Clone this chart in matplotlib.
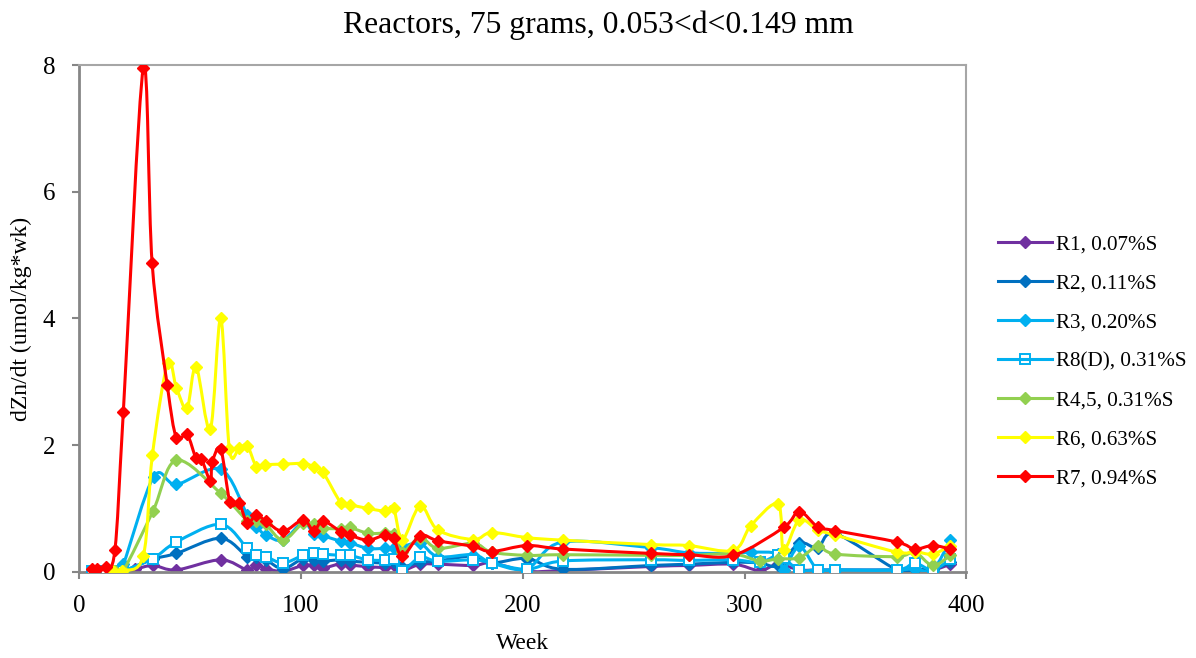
import numpy as np
import matplotlib
matplotlib.use('Agg')
import matplotlib.pyplot as plt
from matplotlib.path import Path
from matplotlib.patches import PathPatch
from matplotlib.lines import Line2D

plt.rcParams['font.family'] = ['Liberation Serif', 'DejaVu Serif']

# ---- data (week, dZn/dt) ----
r1_x = [5.7, 8.3, 12, 16.2, 20, 25.3, 33.4, 43.9, 63.9, 75.9, 80, 84.2, 92, 101, 105.8, 110, 118.2, 122,
        130.2, 138, 141.8, 145.8, 153.8, 161.8, 177.8, 186, 201.9, 218, 258, 274.8, 295, 306.8, 315.1,
        324.7, 333, 341, 368.7, 376.7, 384.8, 392.8]
r1_y = [0.01, 0.01, 0.01, 0.01, 0.01, 0.04, 0.10, 0.03, 0.19, 0.03, 0.11, 0.05, 0.01, 0.10, 0.10, 0.06,
        0.13, 0.11, 0.08, 0.07, 0.10, 0.02, 0.12, 0.12, 0.10, 0.14, 0.01, 0.02, 0.085, 0.10, 0.12, 0.02,
        0.12, 0.03, 0.03, 0.03, 0.03, 0.05, 0.03, 0.12]

r2_x = [5.7, 8.3, 12, 16.2, 20, 33.4, 43.9, 63.9, 75.9, 80, 84.2, 92, 101, 105.8, 110, 118.2, 122, 130.2,
        138, 141.8, 145.8, 153.8, 161.8, 177.8, 186, 201.9, 218, 258, 274.8, 295, 306.8, 315.1, 324.7,
        333, 341, 368.7, 376.7, 384.8, 392.8]
r2_y = [0.01, 0.01, 0.01, 0.01, 0.01, 0.20, 0.29, 0.53, 0.24, 0.24, 0.19, 0.05, 0.21, 0.19, 0.17, 0.19,
        0.17, 0.15, 0.14, 0.15, 0.08, 0.15, 0.17, 0.25, 0.14, 0.21, 0.04, 0.10, 0.12, 0.15, 0.14, 0.10,
        0.45, 0.38, 0.60, 0.03, 0.04, 0.04, 0.15]

r3_x = [5.7, 8.3, 12, 16.2, 20, 33.7, 43.9, 63.9, 75.9, 80, 84.2, 92, 101, 105.8, 110, 118.2, 122, 130.2,
        138, 141.8, 145.8, 153.8, 161.8, 177.8, 186, 201.9, 218, 258, 274.8, 295, 302.9, 315.1, 317.6,
        324.7, 333, 341, 368.7, 376.7, 384.8, 392.8]
r3_y = [0.01, 0.01, 0.01, 0.01, 0.12, 1.50, 1.38, 1.62, 0.90, 0.715, 0.58, 0.50, 0.78, 0.60, 0.57, 0.48,
        0.46, 0.37, 0.37, 0.38, 0.40, 0.45, 0.24, 0.27, 0.14, 0.05, 0.47, 0.38, 0.30, 0.29, 0.31, 0.28,
        0.03, 0.40, 0.03, 0.03, 0.03, 0.05, 0.03, 0.50]

r8_x = [5.7, 8.3, 12, 16.2, 20, 33.4, 43.9, 63.9, 75.9, 80, 84.2, 92, 101, 105.8, 110, 118.2, 122, 130.2,
        138, 141.8, 145.8, 153.8, 161.8, 177.8, 186, 201.9, 218, 258, 274.8, 295, 306.8, 315.1, 317.6,
        324.7, 333, 341, 368.7, 376.7, 384.8, 392.8]
r8_y = [0.02, 0.02, 0.02, 0.02, 0.02, 0.21, 0.47, 0.75, 0.37, 0.27, 0.24, 0.14, 0.26, 0.30, 0.28, 0.26,
        0.26, 0.19, 0.18, 0.20, 0.02, 0.23, 0.165, 0.19, 0.14, 0.04, 0.17, 0.19, 0.18, 0.19, 0.15, 0.27,
        0.22, 0.03, 0.03, 0.03, 0.03, 0.135, 0.03, 0.20]

r45_x = [16.2, 20, 33.4, 43.9, 63.9, 75.9, 80, 84.2, 92, 101, 105.8, 110, 118.2, 122, 130.2, 138, 141.8,
         145.8, 153.8, 161.8, 177.8, 186, 201.9, 218, 258, 274.8, 295, 306.8, 315.1, 324.7, 333, 341,
         368.7, 376.7, 384.8, 392.8]
r45_y = [0.01, 0.02, 0.96, 1.76, 1.24, 0.81, 0.80, 0.75, 0.50, 0.77, 0.75, 0.69, 0.68, 0.70, 0.61, 0.61,
         0.60, 0.32, 0.54, 0.37, 0.45, 0.31, 0.26, 0.27, 0.26, 0.26, 0.28, 0.17, 0.205, 0.22, 0.40, 0.28,
         0.24, 0.31, 0.10, 0.26]

r6_x = [15.5, 19.5, 29, 33.1, 40, 43.9, 48.7, 52.8, 59.2, 63.9, 67.8, 72.2, 75.9, 80, 83.9, 92, 101,
        105.8, 110, 118.2, 122, 130.2, 138, 141.8, 145.8, 153.8, 161.8, 177.8, 186, 201.9, 218, 258,
        274.8, 295, 302.9, 315.1, 317.6, 324.7, 333, 341, 368.7, 376.7, 384.8, 392.8]
r6_y = [0.02, 0.02, 0.25, 1.84, 3.30, 2.91, 2.58, 3.24, 2.25, 4.00, 1.94, 1.95, 1.99, 1.66, 1.69, 1.70,
        1.71, 1.66, 1.57, 1.08, 1.06, 1.00, 0.96, 1.01, 0.51, 1.04, 0.66, 0.51, 0.62, 0.54, 0.50, 0.43,
        0.415, 0.34, 0.73, 1.07, 0.35, 0.82, 0.66, 0.58, 0.31, 0.32, 0.28, 0.415]

r7_x = [5.7, 8.3, 12, 16.2, 20, 29, 33, 39.8, 43.9, 48.7, 52.8, 55.2, 59.2, 60.1, 63.9, 68.1, 72.2, 75.9,
        80, 84.2, 92, 101, 105.8, 110, 118.2, 122, 130.2, 138, 141.8, 145.8, 153.8, 161.8, 177.8, 186,
        201.9, 218, 258, 274.8, 295, 317.6, 324.7, 333, 341, 368.7, 376.7, 384.8, 392.8]
r7_y = [0.04, 0.04, 0.07, 0.34, 2.52, 7.95, 4.87, 2.95, 2.12, 2.17, 1.79, 1.78, 1.44, 1.73, 1.94, 1.10,
        1.08, 0.77, 0.90, 0.80, 0.64, 0.82, 0.65, 0.80, 0.63, 0.58, 0.50, 0.58, 0.53, 0.25, 0.57, 0.49,
        0.40, 0.32, 0.415, 0.36, 0.29, 0.27, 0.26, 0.70, 0.95, 0.71, 0.65, 0.47, 0.36, 0.415, 0.36]

labels = ['R1, 0.07%S', 'R2, 0.11%S', 'R3, 0.20%S', 'R8(D), 0.31%S', 'R4,5, 0.31%S', 'R6, 0.63%S', 'R7, 0.94%S']
colors = ['#7030A0', '#0070C0', '#00B0F0', '#00B0F0', '#92D050', '#FFFF00', '#FF0000']
markers = ['D', 'D', 'D', 's', 'D', 'D', 'D']
series = [(r1_x, r1_y), (r2_x, r2_y), (r3_x, r3_y), (r8_x, r8_y), (r45_x, r45_y), (r6_x, r6_y), (r7_x, r7_y)]


def smooth_path(x, y):
    # Excel-like smoothed line: cubic bezier through every point (catmull-rom tangents)
    p = np.column_stack([x, y]).astype(float)
    n = len(p)
    verts = [p[0]]
    codes = [Path.MOVETO]
    for i in range(n - 1):
        p0 = p[i - 1] if i > 0 else p[i]
        p3 = p[i + 2] if i + 2 < n else p[i + 1]
        c1 = p[i] + (p[i + 1] - p0) / 6.0
        c2 = p[i + 1] - (p3 - p[i]) / 6.0
        verts += [c1, c2, p[i + 1]]
        codes += [Path.CURVE4] * 3
    return Path(verts, codes)


fig = plt.figure(figsize=(11.96, 6.58), dpi=100)
ax = fig.add_axes([0.066, 0.131, 0.742, 0.770])

handles = []
for k, ((x, y), c, m, lab) in enumerate(zip(series, colors, markers, labels)):
    ax.add_patch(PathPatch(smooth_path(x, y), fill=False, edgecolor=c, lw=2.2, zorder=2 + k))
    if m == 's':
        ax.plot(x, y, ls='none', marker='s', ms=6.5, mfc='white', mec=c, mew=1.4, zorder=2 + k)
        handles.append(Line2D([], [], color=c, lw=2.2, marker='s', ms=6.5, mfc='none', mec=c, mew=1.4))
    else:
        ax.plot(x, y, ls='none', marker='D', ms=5.8, mfc=c, mec=c, zorder=2 + k)
        handles.append(Line2D([], [], color=c, lw=2.2, marker='D', ms=5.8, mfc=c, mec=c))

ax.set_xlim(0, 400)
ax.set_ylim(0, 8)
ax.set_xticks([0, 100, 200, 300, 400])
ax.set_yticks([0, 2, 4, 6, 8])
ax.tick_params(axis='both', direction='out', length=5, width=1.5, color='#868686', labelsize=18)
ax.tick_params(axis='x', pad=12)
ax.tick_params(axis='y', pad=12)
for s in ['left', 'bottom']:
    ax.spines[s].set_color('#868686')
    ax.spines[s].set_linewidth(2)
for s in ['top', 'right']:
    ax.spines[s].set_color('#A6A6A6')
    ax.spines[s].set_linewidth(1.5)

ax.set_xlabel('Week', fontsize=17, labelpad=11)
ax.set_ylabel('dZn/dt (umol/kg*wk)', fontsize=17, labelpad=8)
fig.suptitle('Reactors, 75 grams, 0.053<d<0.149 mm', fontsize=22.8, y=0.984)

fig.legend(handles, labels, loc='center left', bbox_to_anchor=(0.8186, 0.451), frameon=False,
           fontsize=15.2, handlelength=2.55, handletextpad=0.2, labelspacing=0.91)

fig.savefig('out.png', dpi=100)
